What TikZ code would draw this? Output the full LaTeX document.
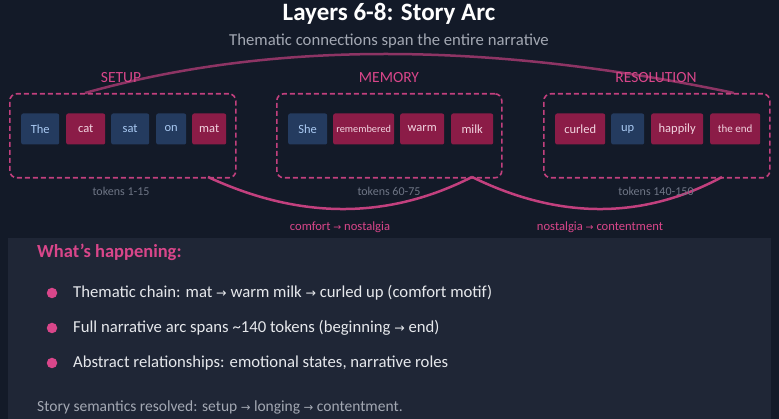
\documentclass[tikz,border=0pt]{standalone}
\usepackage{fontspec}
\setmainfont{Carlito}
\newfontfamily\dvs{DejaVu Sans}
\newcommand{\arr}{{\dvs\scalebox{0.75}{→}}}
\definecolor{bg}{HTML}{131A28}
\definecolor{panel}{HTML}{1F2636}
\definecolor{pinkc}{HTML}{D9468A}
\definecolor{arcc}{HTML}{C2407E}
\definecolor{blueT}{HTML}{243B5F}
\definecolor{redT}{HTML}{8B1C47}
\definecolor{blueTx}{HTML}{A9C9F2}
\definecolor{redTx}{HTML}{F2D4E0}
\definecolor{grayT}{HTML}{6E7585}
\definecolor{subT}{HTML}{A3A8B3}
\definecolor{bodyT}{HTML}{E6E8EC}
\tikzset{
  tok/.style={minimum height=31pt, inner sep=0pt, rounded corners=2pt, font=\fontsize{12.5}{12.5}\selectfont, anchor=west},
  btok/.style={tok, fill=blueT, text=blueTx},
  rtok/.style={tok, fill=redT, text=redTx},
  grp/.style={draw=arcc, dashed, dash pattern=on 5pt off 3pt, line width=1.6pt, rounded corners=7pt, minimum height=84pt, inner sep=0pt, anchor=north west},
  seclab/.style={text=pinkc, font=\fontsize{15.5}{15.5}\selectfont},
  toklab/.style={text=grayT, font=\fontsize{12}{12}\selectfont},
  arclab/.style={text=pinkc, font=\fontsize{12.6}{12.6}\selectfont},
  arcline/.style={draw=arcc, line width=2.5pt},
  bullet/.style={circle, fill=pinkc, minimum size=10.5pt, inner sep=0pt},
  btext/.style={text=bodyT, font=\fontsize{16.7}{16.7}\selectfont, anchor=west}
}
\begin{document}
\begin{tikzpicture}[x=1pt,y=-1pt]
\useasboundingbox (0,0) rectangle (779,419);
\fill[bg] (0,0) rectangle (779,419);
\fill[panel] (8,238) rectangle (771,425);

\node[text=white, font=\fontsize{25}{25}\selectfont\bfseries] (title) at (389,14) {Layers 6-8: Story Arc};
\node[text=subT, font=\fontsize{16.7}{16.7}\selectfont] (sub) at (389,41) {Thematic connections span the entire narrative};

% group boxes
\node[grp, minimum width=226pt] (g1) at (9,93) {};
\node[grp, minimum width=225pt] (g2) at (276,93) {};
\node[grp, minimum width=226pt] (g3) at (543,93) {};

\coordinate (a1) at (85,93);
\coordinate (a2) at (734,93);
\coordinate (b1) at (208,177);
\coordinate (b2) at (472,177);
\coordinate (b3) at (722,177);

% arcs
\draw[arcline, opacity=0.7] (a1) .. controls (270,41) and (486,41) .. (a2);
\draw[arcline] (b1) .. controls (300,219.7) and (388,219.7) .. (b2);
\draw[arcline] (b2) .. controls (559,219.7) and (643,219.7) .. (b3);

\node[seclab] (s1) at (121,78) {SETUP};
\node[seclab] (s2) at (389,78) {MEMORY};
\node[seclab] (s3) at (656,78) {RESOLUTION};

% tokens
\node[btok, minimum width=38pt] (t1) at (21,129) {The};
\node[rtok, minimum width=39pt] (t2) at (66,129) {cat};
\node[btok, minimum width=38pt] (t3) at (111,129) {sat};
\node[btok, minimum width=30pt] (t4) at (156,129) {on};
\node[rtok, minimum width=34pt] (t5) at (192,129) {mat};

\node[btok, minimum width=39pt] (m1) at (288,129) {She};
\node[rtok, minimum width=61pt, font=\fontsize{10.3}{10.3}\selectfont] (m2) at (333,129) {remembered};
\node[rtok, minimum width=44pt] (m3) at (400,129) {warm};
\node[rtok, minimum width=42pt] (m4) at (451,129) {milk};

\node[rtok, minimum width=50pt] (r1) at (555,129) {curled};
\node[btok, minimum width=33pt] (r2) at (611,129) {up};
\node[rtok, minimum width=52pt] (r3) at (651,129) {happily};
\node[rtok, minimum width=50pt, font=\fontsize{11}{11}\selectfont] (r4) at (710,129) {the end};

\node[toklab] (l1) at (121,191) {tokens 1-15};
\node[toklab] (l2) at (389,191) {tokens 60-75};
\node[toklab] (l3) at (656,191) {tokens 140-150};

\node[arclab] (c1) at (340,227) {comfort \arr{} nostalgia};
\node[arclab] (c2) at (600,227) {nostalgia \arr{} contentment};

% panel text
\node[text=pinkc, font=\fontsize{18.5}{18.5}\selectfont\bfseries, anchor=west, inner xsep=0pt] (wh) at (37,252) {What's happening:};
\node[bullet] (d1) at (52,293) {};
\node[bullet] (d2) at (52,328) {};
\node[bullet] (d3) at (52,363) {};
\node[btext, inner xsep=0pt] (x1) at (73,293) {Thematic chain: mat \arr{} warm milk \arr{} curled up (comfort motif)};
\node[btext, inner xsep=0pt] (x2) at (73,328) {Full narrative arc spans \textasciitilde140 tokens (beginning \arr{} end)};
\node[btext, inner xsep=0pt] (x3) at (73,363) {Abstract relationships: emotional states, narrative roles};
\node[text=subT, font=\fontsize{15.5}{15.5}\selectfont, anchor=west, inner xsep=0pt] (ft) at (37,407) {Story semantics resolved: setup \arr{} longing \arr{} contentment.};
\end{tikzpicture}
\end{document}
